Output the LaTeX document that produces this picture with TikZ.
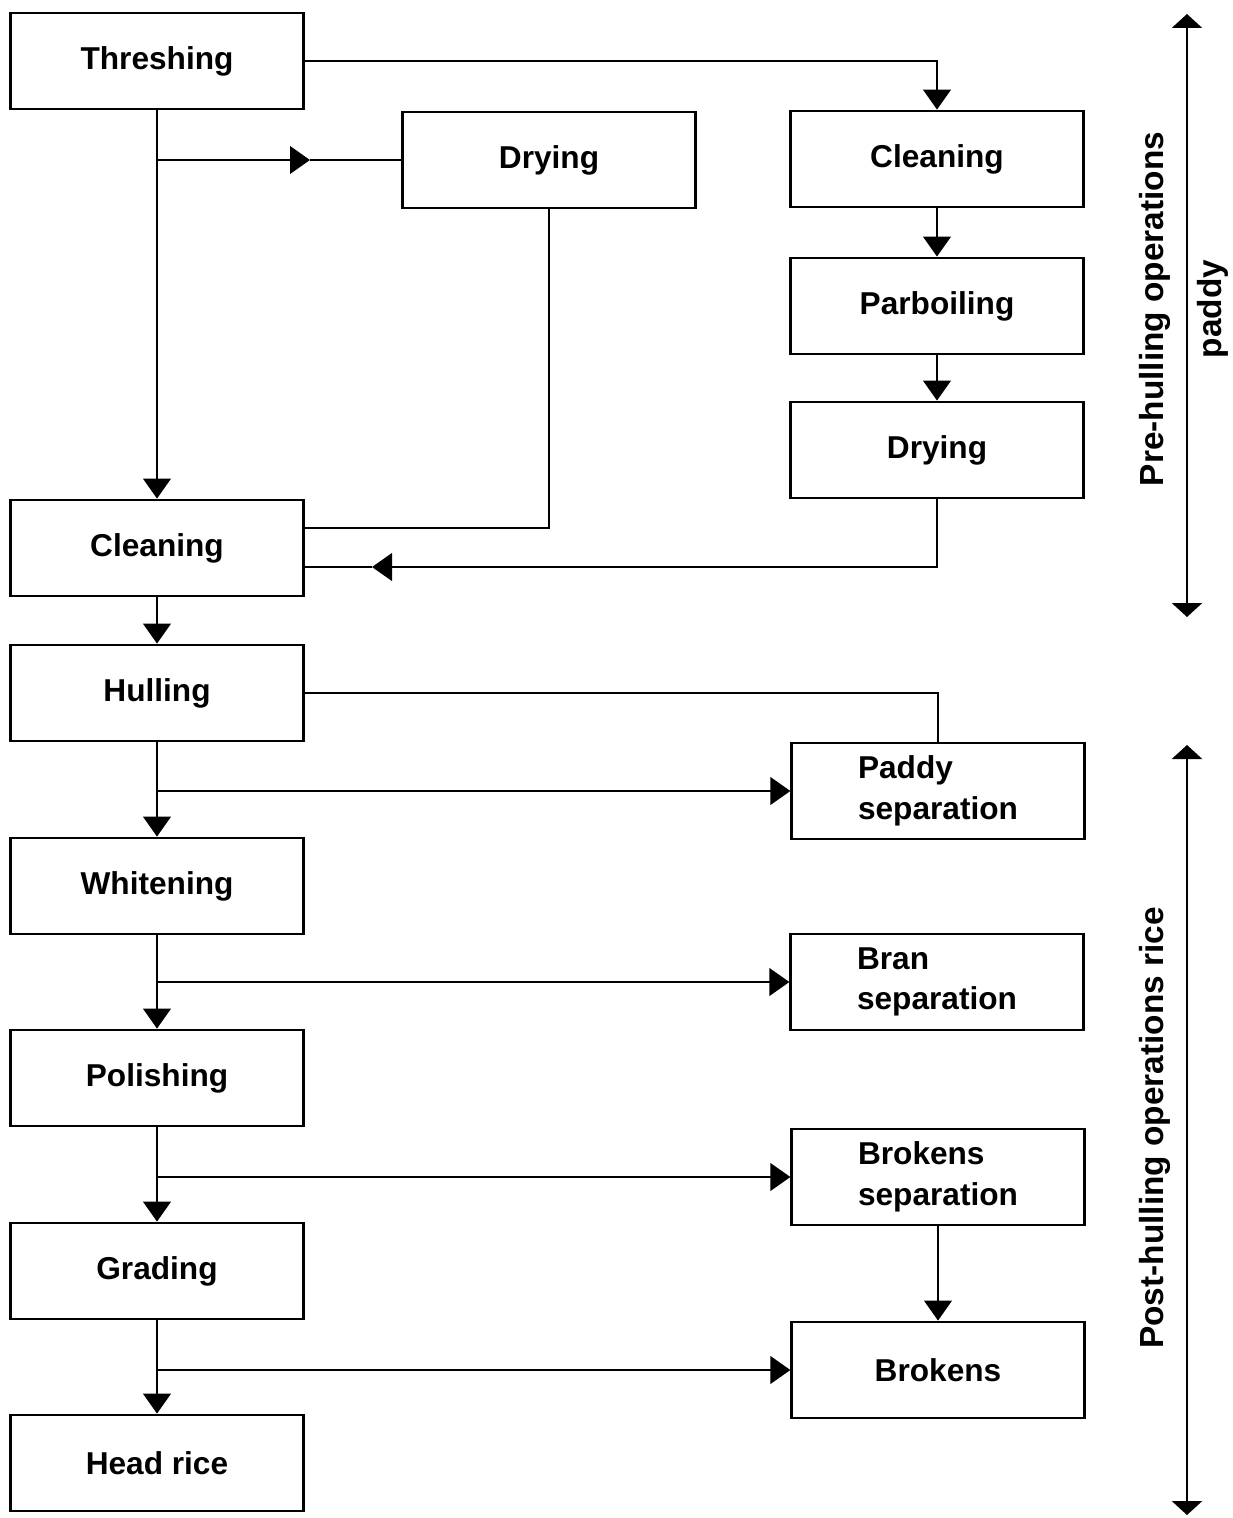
\documentclass[tikz,border=0pt]{standalone}
\usepackage{fontspec}
\setsansfont{Liberation Sans}
\usepackage{tikz}
\usetikzlibrary{
    positioning,     % For relative node placement
    arrows.meta,     % For the filled triangle tips
    calc             % For coordinate calculations
}

\begin{document}
\begin{tikzpicture}[x=0.02cm, y=-0.02cm]

    % --- Style Definitions ---
    \tikzset{
        % All process boxes
        block/.style={
            rectangle,
            draw=black,
            line width=1.6pt,
            minimum width=5.85cm,
            minimum height=1.92cm,
            inner sep=0pt,
            align=left,
            font=\sffamily\bfseries\fontsize{18}{23}\selectfont
        },
        % Connectors with a filled tip
        arrow/.style={
            -{Triangle[length=0.4cm, width=0.55cm]},
            line width=1.5pt,
            black
        },
        % Plain connectors
        link/.style={
            line width=1.5pt,
            black
        },
        % The two range arrows on the right
        span/.style={
            {Triangle[length=0.28cm, width=0.6cm]}-{Triangle[length=0.28cm, width=0.6cm]},
            line width=1.5pt,
            black
        },
        sidelabel/.style={
            rotate=90,
            font=\sffamily\bfseries\fontsize{19}{23}\selectfont
        }
    }

    \useasboundingbox (0,0) rectangle (1233,1518);

    % --- Node Placement ---
    \node[block] (threshing) at (157,61) {Threshing};
    \node[block] (drying1) at (549,160) {Drying};
    \node[block] (cleaning1) at (937,159) {Cleaning};
    \node[block] (parboiling) at (937,306) {Parboiling};
    \node[block] (drying2) at (937,450) {Drying};
    \node[block] (cleaning2) at (157,548) {Cleaning};
    \node[block] (hulling) at (157,693) {Hulling};
    \node[block] (paddysep) at (938,791) {Paddy\\separation};
    \node[block] (whitening) at (157,886) {Whitening};
    \node[block] (bransep) at (937,982) {Bran\\separation};
    \node[block] (polishing) at (157,1078) {Polishing};
    \node[block] (brokensep) at (938,1177) {Brokens\\separation};
    \node[block] (grading) at (157,1271) {Grading};
    \node[block] (brokens) at (938,1370) {Brokens};
    \node[block] (headrice) at (157,1463) {Head rice};

    % --- Drawing Connections ---

    % 1. Pre-hulling paths
    \draw[arrow] (threshing.east) -| (cleaning1.north);
    \draw[arrow] (threshing.south) -- (cleaning2.north);

    % branch to the first drying, tip half way
    \coordinate (split1) at (threshing.south |- drying1.west);
    \coordinate (mid1) at (310,160);
    \draw[arrow] (split1) -- (mid1);
    \draw[link] (mid1) -- (drying1.west);

    % first drying back into cleaning
    \coordinate (join1) at ($(cleaning2.east)+(0,-20)$);
    \draw[link] (drying1.south) |- (join1);

    % parboiling line
    \draw[arrow] (cleaning1.south) -- (parboiling.north);
    \draw[arrow] (parboiling.south) -- (drying2.north);

    % second drying back into cleaning, tip half way
    \coordinate (join2) at ($(cleaning2.east)+(0,19)$);
    \coordinate (mid2) at (372,567);
    \draw[arrow] (drying2.south) |- (mid2);
    \draw[link] (mid2) -- (join2);

    % 2. Main vertical flow
    \draw[arrow] (cleaning2.south) -- (hulling.north);
    \draw[arrow] (hulling.south) -- (whitening.north);
    \draw[arrow] (whitening.south) -- (polishing.north);
    \draw[arrow] (polishing.south) -- (grading.north);
    \draw[arrow] (grading.south) -- (headrice.north);

    % 3. Separations
    \draw[link] (hulling.east) -| (paddysep.north);
    \draw[arrow] (hulling.south |- paddysep.west) -- (paddysep.west);
    \draw[arrow] (whitening.south |- bransep.west) -- (bransep.west);
    \draw[arrow] (polishing.south |- brokensep.west) -- (brokensep.west);
    \draw[arrow] (grading.south |- brokens.west) -- (brokens.west);
    \draw[arrow] (brokensep.south) -- (brokens.north);

    % 4. Range arrows
    \coordinate (pretop) at (1187,14);
    \coordinate (prebot) at (1187,617);
    \draw[span] (pretop) -- (prebot);
    \node[sidelabel] (prelabel) at (1155,309) {Pre-hulling operations};
    \node[sidelabel] (paddylabel) at (1213,309) {paddy};

    \coordinate (posttop) at (1187,745);
    \coordinate (postbot) at (1187,1515);
    \draw[span] (posttop) -- (postbot);
    \node[sidelabel] (postlabel) at (1155,1128) {Post-hulling operations rice};

\end{tikzpicture}
\end{document}
